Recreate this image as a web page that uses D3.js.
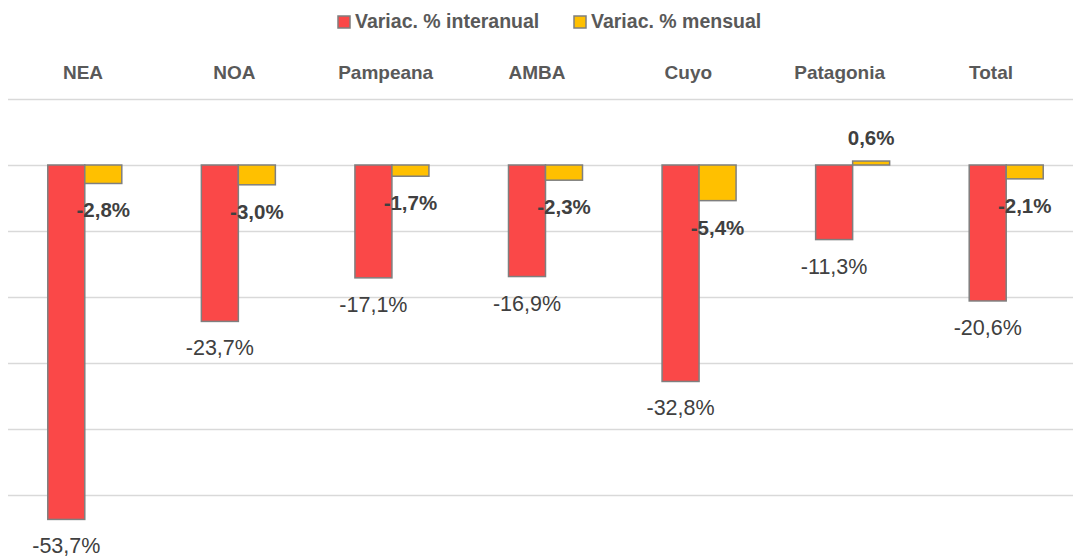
<!DOCTYPE html>
<html>
<head>
<meta charset="utf-8">
<script src="https://cdn.jsdelivr.net/npm/d3@7"></script>
<style>
  html, body { margin: 0; padding: 0; background: #fff; }
  svg { display: block; }
</style>
</head>
<body>
<script>
const categories = ["NEA", "NOA", "Pampeana", "AMBA", "Cuyo", "Patagonia", "Total"];
const interanual = [-53.7, -23.7, -17.1, -16.9, -32.8, -11.3, -20.6];
const mensual = [-2.8, -3.0, -1.7, -2.3, -5.4, 0.6, -2.1];
const seriesNames = ["Variac. % interanual", "Variac. % mensual"];
const gridTicks = [10, 0, -10, -20, -30, -40, -50];

const W = 1073, H = 558;
const FONT = "'Liberation Sans', Arial, sans-serif";
const colors = ["#FA4848", "#FFC000"];
const stroke = "#7F7F7F";

const svg = d3.select("body").append("svg").attr("width", W).attr("height", H);

const y = d3.scaleLinear().domain([-60, 10]).range([561, 99]);
const x0 = d3.scaleBand().domain(categories).range([8, 1083]).paddingInner(0).paddingOuter(0);
const x1 = d3.scaleBand().domain(["inter", "mens"]).range([0, x0.bandwidth()]).paddingInner(0).paddingOuter(1.075);
const xh = d3.scalePoint().domain(categories).range([83, 991]);

// gridlines
svg.append("g").selectAll("line").data(gridTicks).join("line")
  .attr("x1", 8).attr("x2", W)
  .attr("y1", d => Math.round(y(d)) + 0.5).attr("y2", d => Math.round(y(d)) + 0.5)
  .attr("stroke", "#D9D9D9").attr("stroke-width", 1.5);

// header labels
svg.append("g").selectAll("text").data(categories).join("text")
  .attr("x", d => xh(d)).attr("y", 79)
  .attr("text-anchor", "middle")
  .attr("font-family", FONT).attr("font-weight", "bold").attr("font-size", 19)
  .attr("fill", "#595959")
  .text(d => d);

const fmt = v => v.toFixed(1).replace(".", ",") + "%";

const rows = categories.map((c, i) => ({ c, inter: interanual[i], mens: mensual[i] }));
const keys = ["inter", "mens"];

const groups = svg.append("g").selectAll("g").data(rows).join("g")
  .attr("transform", d => `translate(${x0(d.c)},0)`);

groups.selectAll("rect").data(d => keys.map((k, j) => ({ k, j, v: d[k] }))).join("rect")
  .attr("x", d => x1(d.k))
  .attr("width", x1.bandwidth())
  .attr("y", d => y(Math.max(0, d.v)))
  .attr("height", d => Math.abs(y(d.v) - y(0)))
  .attr("fill", d => colors[d.j])
  .attr("stroke", stroke).attr("stroke-width", 1.5);

groups.selectAll("text").data(d => keys.map((k, j) => ({ k, j, v: d[k] }))).join("text")
  .attr("x", d => x1(d.k) + x1.bandwidth() / 2)
  .attr("y", d => d.v < 0 ? y(d.v) + 34 : y(d.v) - 16)
  .attr("text-anchor", "middle")
  .attr("font-family", FONT)
  .attr("font-size", d => d.j === 0 ? 21.5 : 20.5)
  .attr("font-weight", d => d.j === 0 ? "normal" : "bold")
  .attr("fill", "#404040")
  .text(d => fmt(d.v));

// legend
const legend = svg.append("g");
const legX = [338, 574];
seriesNames.forEach((n, i) => {
  legend.append("rect").attr("x", legX[i]).attr("y", 16).attr("width", 12).attr("height", 12)
    .attr("fill", colors[i]).attr("stroke", stroke).attr("stroke-width", 1.5);
  legend.append("text").attr("x", legX[i] + 17).attr("y", 28)
    .attr("font-family", FONT).attr("font-weight", "bold").attr("font-size", 19.5)
    .attr("fill", "#595959").text(n);
});
</script>
</body>
</html>
